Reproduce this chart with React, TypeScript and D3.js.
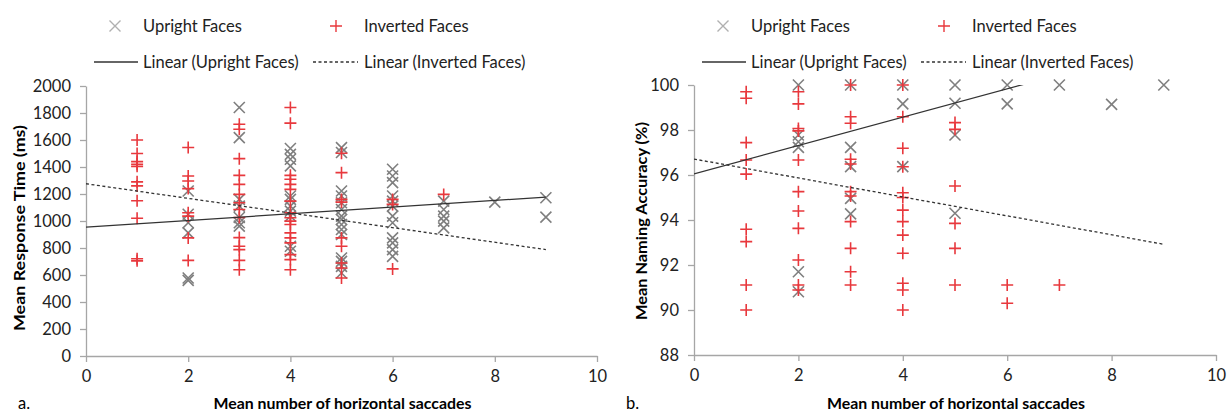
import React, { useRef, useEffect } from 'react';
import * as d3 from 'd3';

// saccade count -> values
const rtUpright: [number, number[]][] = [
    [2, [1222, 1050, 987, 912, 578, 560]],
    [3, [1841, 1618, 1160, 1110, 1026, 987, 962]],
    [4, [1537, 1494, 1457, 1408, 1185, 1160, 1110, 1073, 1036, 813, 776]],
    [5, [1544, 1507, 1222, 1185, 1135, 1085, 1036, 1011, 974, 937, 900, 726, 701, 664, 615]],
    [6, [1383, 1333, 1284, 1185, 1147, 1110, 1036, 987, 875, 838, 788, 738]],
    [7, [1147, 1085, 1036, 999, 949]],
    [8, [1140]],
    [9, [1172, 1029]],
];
const rtInverted: [number, number[]][] = [
    [1, [1600, 1500, 1440, 1420, 1405, 1290, 1260, 1150, 1020, 720, 705]],
    [2, [1544, 1333, 1296, 1240, 1061, 1036, 875, 708]],
    [3, [1717, 1680, 1462, 1338, 1271, 1197, 1135, 1085, 1026, 877, 813, 788, 708, 639]],
    [4, [1841, 1725, 1338, 1309, 1271, 1234, 1147, 1061, 1024, 999, 974, 912, 875, 838, 751, 714, 639]],
    [5, [1502, 1358, 1160, 1140, 875, 813, 689, 652, 578]],
    [6, [1160, 1123, 645]],
    [7, [1197]],
];
const accUpright: [number, number[]][] = [
    [2, [100, 97.78, 97.48, 97.23, 91.7, 90.81]],
    [3, [100, 97.23, 96.37, 94.96, 94.27]],
    [4, [100, 99.16, 96.37]],
    [5, [100, 99.19, 97.78, 94.3]],
    [6, [100, 99.16]],
    [7, [100]],
    [8, [99.14]],
    [9, [100]],
];
const accInverted: [number, number[]][] = [
    [1, [99.7, 99.41, 97.44, 96.67, 96.04, 93.59, 93.04, 91.11, 90.0]],
    [2, [99.7, 99.16, 98.07, 97.96, 96.67, 95.26, 94.4, 93.63, 92.22, 91.11, 90.89]],
    [3, [100, 98.59, 98.3, 96.7, 96.49, 95.26, 95.07, 93.93, 92.74, 91.7, 91.11]],
    [4, [100, 98.59, 97.19, 96.37, 95.21, 95.0, 94.44, 93.93, 93.33, 92.52, 91.19, 90.89, 90.0]],
    [5, [98.33, 98.03, 95.51, 93.85, 92.74, 91.11]],
    [6, [91.11, 90.3]],
    [7, [91.11]],
];

// linear trendlines [intercept, slope], drawn over x 0..9
const rtTrend = { upright: [954, 24.8], inverted: [1276, -54.2] };
const accTrend = { upright: [96.05, 0.63], inverted: [96.71, -0.421] };

const xTicks = [0, 2, 4, 6, 8, 10];
const rtTicks = d3.range(0, 2001, 200);
const accTicks = d3.range(88, 101, 2);

const FONT = 'Lato, "Open Sans", sans-serif';
const RED = '#e8383d';
const GRAY = '#7f7f7f';
const AXIS = '#a6a6a6';

const flatten = (rows: [number, number[]][]) =>
    rows.flatMap(([x, ys]) => ys.map(y => ({ x, y })));

const App = () => {
    const ref = useRef<SVGSVGElement>(null);

    useEffect(() => {
        const svg = d3.select(ref.current);
        svg.selectAll('*').remove();

        const charts = [
            {
                id: 'a', left: 86, right: 597, top: 86, bottom: 356,
                domain: [0, 2000], ticks: rtTicks,
                upright: rtUpright, inverted: rtInverted, trend: rtTrend,
                yTitle: 'Mean Response Time (ms)', yTitleX: 18, yTitleY: 228, yTitleLen: 206,
            },
            {
                id: 'b', left: 694, right: 1216, top: 85, bottom: 355,
                domain: [88, 100], ticks: accTicks,
                upright: accUpright, inverted: accInverted, trend: accTrend,
                yTitle: 'Mean Naming Accuracy (%)', yTitleX: 640, yTitleY: 221, yTitleLen: 198,
            },
        ];

        charts.forEach(c => {
            const x = d3.scaleLinear().domain([0, 10]).range([c.left, c.right]);
            const y = d3.scaleLinear().domain(c.domain).range([c.bottom, c.top]);
            const g = svg.append('g');

            // axes
            const xAxis = g.append('g')
                .attr('transform', `translate(0,${c.bottom})`)
                .call(d3.axisBottom(x).tickValues(xTicks).tickSize(6).tickPadding(8).tickSizeOuter(0));
            const yAxis = g.append('g')
                .attr('transform', `translate(${c.left},0)`)
                .call(d3.axisLeft(y).tickValues(c.ticks).tickFormat(d3.format('d') as any).tickSize(6).tickPadding(9).tickSizeOuter(0));
            [xAxis, yAxis].forEach(a => {
                a.select('.domain').attr('stroke', AXIS).attr('stroke-width', 1.3);
                a.selectAll('.tick line').attr('stroke', AXIS).attr('stroke-width', 1.3);
                a.selectAll('text').attr('fill', '#222').style('font-size', '16.5px').style('font-family', FONT);
            });

            // markers
            g.selectAll('.up')
                .data(flatten(c.upright))
                .enter()
                .append('path')
                .attr('d', 'M-5.5,-5.5L5.5,5.5M-5.5,5.5L5.5,-5.5')
                .attr('transform', d => `translate(${x(d.x)},${y(d.y)})`)
                .attr('stroke', GRAY)
                .attr('stroke-width', 1.6)
                .attr('fill', 'none');

            g.selectAll('.inv')
                .data(flatten(c.inverted))
                .enter()
                .append('path')
                .attr('d', 'M-6,0L6,0M0,-6L0,6')
                .attr('transform', d => `translate(${x(d.x)},${y(d.y)})`)
                .attr('stroke', RED)
                .attr('stroke-width', 1.6)
                .attr('fill', 'none');

            // trendlines, clipped to the plot area
            const clipId = `clip-${c.id}`;
            svg.append('clipPath').attr('id', clipId)
                .append('rect')
                .attr('x', c.left).attr('y', c.top)
                .attr('width', c.right - c.left).attr('height', c.bottom - c.top);

            const line = d3.line<number>().x(d => x(d));
            const drawTrend = ([b, m]: number[], dash: string | null) => {
                g.append('path')
                    .datum([0, 9])
                    .attr('d', line.y(d => y(b + m * d)))
                    .attr('clip-path', `url(#${clipId})`)
                    .attr('stroke', '#333')
                    .attr('stroke-width', 1.3)
                    .attr('stroke-dasharray', dash)
                    .attr('fill', 'none');
            };
            drawTrend(c.trend.upright, null);
            drawTrend(c.trend.inverted, '3,2.5');

            // titles
            g.append('text')
                .attr('transform', `translate(${c.yTitleX},${c.yTitleY}) rotate(-90)`)
                .attr('text-anchor', 'middle')
                .attr('dominant-baseline', 'central')
                .attr('textLength', c.yTitleLen)
                .attr('lengthAdjust', 'spacingAndGlyphs')
                .style('font-family', FONT)
                .style('font-weight', 'bold')
                .style('font-size', '16px')
                .text(c.yTitle);

            g.append('text')
                .attr('x', (c.left + c.right) / 2 + 1)
                .attr('y', 409)
                .attr('text-anchor', 'middle')
                .attr('textLength', 258)
                .attr('lengthAdjust', 'spacingAndGlyphs')
                .style('font-family', FONT)
                .style('font-weight', 'bold')
                .style('font-size', '16px')
                .text('Mean number of horizontal saccades');

            g.append('text')
                .attr('x', c.left - 68)
                .attr('y', 409)
                .style('font-family', FONT)
                .style('font-size', '16.5px')
                .text(`${c.id}.`);

            // legend
            const off = c.left - 86;
            const lg = g.append('g').attr('transform', `translate(${off},0)`)
                .style('font-family', FONT).style('font-size', '16.5px').attr('fill', '#222');
            lg.append('path').attr('d', 'M109.5,20.5L120.5,31.5M109.5,31.5L120.5,20.5')
                .attr('stroke', '#b0b0b0').attr('stroke-width', 1.4);
            lg.append('text').attr('x', 143).attr('y', 32).text('Upright Faces');
            lg.append('path').attr('d', 'M330,26L342,26M336,20L336,32')
                .attr('stroke', RED).attr('stroke-width', 1.4);
            lg.append('text').attr('x', 364).attr('y', 32).text('Inverted Faces');
            lg.append('path').attr('d', 'M94,62L138,62').attr('stroke', '#333').attr('stroke-width', 1.3);
            lg.append('text').attr('x', 143).attr('y', 68).text('Linear (Upright Faces)');
            lg.append('path').attr('d', 'M313,62L358,62').attr('stroke', '#333')
                .attr('stroke-width', 1.3).attr('stroke-dasharray', '3,2.5');
            lg.append('text').attr('x', 364).attr('y', 68).text('Linear (Inverted Faces)');
        });
    }, []);

    return (
        <div style={{ position: 'absolute', left: 0, top: 0 }}>
            <svg ref={ref} width={1228} height={414} style={{ display: 'block', background: '#fff' }}></svg>
        </div>
    );
};

export default App;
